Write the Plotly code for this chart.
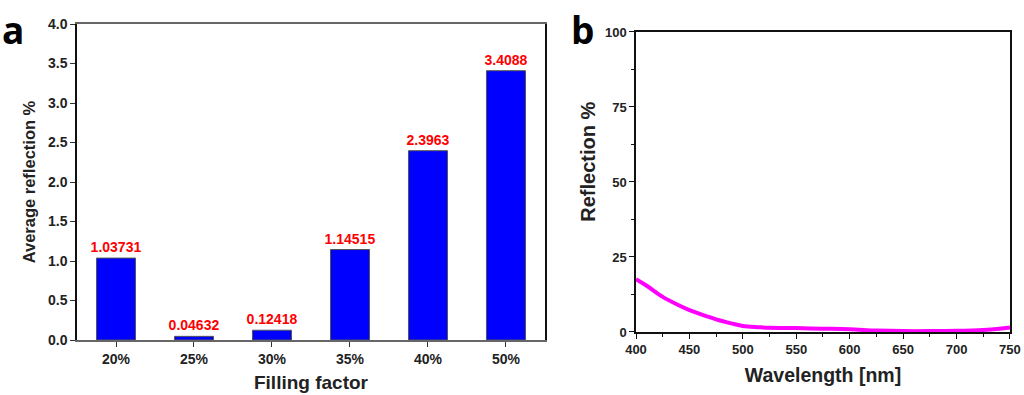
import plotly.graph_objects as go

categories = ["20%", "25%", "30%", "35%", "40%", "50%"]
avg_reflection = [1.03731, 0.04632, 0.12418, 1.14515, 2.3963, 3.4088]
bar_labels = ["1.03731", "0.04632", "0.12418", "1.14515", "2.3963", "3.4088"]

wavelength = [400, 410, 425, 440, 450, 465, 475, 490, 500, 515, 525, 550, 575, 600, 625, 650, 675, 700, 725, 740, 750]
reflection = [17.6, 15.4, 11.7, 8.9, 7.3, 5.4, 4.2, 2.8, 2.0, 1.6, 1.4, 1.3, 1.1, 0.9, 0.5, 0.3, 0.3, 0.4, 0.7, 1.1, 1.5]

FONT = "Liberation Sans"

fig = go.Figure()
fig.add_trace(go.Bar(
    x=categories, y=avg_reflection, width=0.5,
    marker=dict(color="#0000ff", line=dict(color="#555555", width=1)),
    text=bar_labels, textposition="outside", cliponaxis=False, constraintext="none",
    textfont=dict(color="#ff0000", size=14, family=FONT, weight="bold"),
    xaxis="x", yaxis="y", showlegend=False,
))
fig.add_trace(go.Scatter(
    x=wavelength, y=reflection, mode="lines", line=dict(color="#ff00ff", width=4, shape="spline"),
    xaxis="x2", yaxis="y2", showlegend=False,
))

tickfont = dict(family=FONT, size=14, color="#222", weight="bold")
tickfont2 = dict(family=FONT, size=13, color="#222", weight="bold")

fig.update_layout(
    width=1024, height=395, margin=dict(l=0, r=0, t=0, b=0),
    plot_bgcolor="white", paper_bgcolor="white",
    xaxis=dict(domain=[0.0752, 0.5322], range=[-0.5, 5.5], showline=True, linecolor="#666666", linewidth=1.5,
               mirror=True, ticks="outside", ticklen=5, tickcolor="#333", tickfont=tickfont, automargin=False,
               title=dict(text="Filling factor", font=dict(family=FONT, size=19, color="#222", weight="bold"),
                          standoff=10), showgrid=False, anchor="y"),
    yaxis=dict(domain=[0.1392, 0.9392], range=[0, 4.0], dtick=0.5, tickformat=".1f", showline=True,
               linecolor="#111", linewidth=1.5, mirror=True, ticks="outside", ticklen=5, tickcolor="#333",
               tickfont=tickfont, showgrid=False, zeroline=False, automargin=False,
               title=dict(text="Average reflection %", font=dict(family=FONT, size=16.5, color="#222", weight="bold"),
                          standoff=8), anchor="x"),
    xaxis2=dict(domain=[0.6211, 0.9863], range=[400, 750], dtick=50, showline=True, linecolor="#111",
                linewidth=1.5, mirror=True, ticks="outside", ticklen=5, tickcolor="#111", tickfont=tickfont2,
                minor=dict(ticks="outside", ticklen=3, dtick=25, tickcolor="#111"), automargin=False,
                title=dict(text="Wavelength [nm]", font=dict(family=FONT, size=19.5, color="#222", weight="bold"),
                           standoff=12), showgrid=False, anchor="y2", zeroline=False),
    yaxis2=dict(domain=[0.1595, 0.919], range=[0, 100], dtick=25, showline=True, linecolor="#111",
                linewidth=1.5, mirror=True, ticks="outside", ticklen=5, tickcolor="#111", tickfont=tickfont2,
                minor=dict(ticks="outside", ticklen=3, dtick=12.5, tickcolor="#111"), automargin=False,
                showgrid=False, zeroline=False, anchor="x2"),
    annotations=[
        dict(text="a", x=0.0, y=0.995, xref="paper", yref="paper", xanchor="left", yanchor="top",
             showarrow=False, font=dict(family="Open Sans", size=37, color="black", weight="bold")),
        dict(text="b", x=0.556, y=0.995, xref="paper", yref="paper", xanchor="left", yanchor="top",
             showarrow=False, font=dict(family="Open Sans", size=37, color="black", weight="bold")),
        dict(text="Reflection %", x=0.574, y=0.59, xref="paper", yref="paper", xanchor="center",
             yanchor="middle", textangle=-90, showarrow=False,
             font=dict(family=FONT, size=20, color="#222", weight="bold")),
    ],
)

fig.write_html("out.html", config={"displayModeBar": False},
               post_script="document.body.style.margin='0';document.body.style.overflow='hidden';")
